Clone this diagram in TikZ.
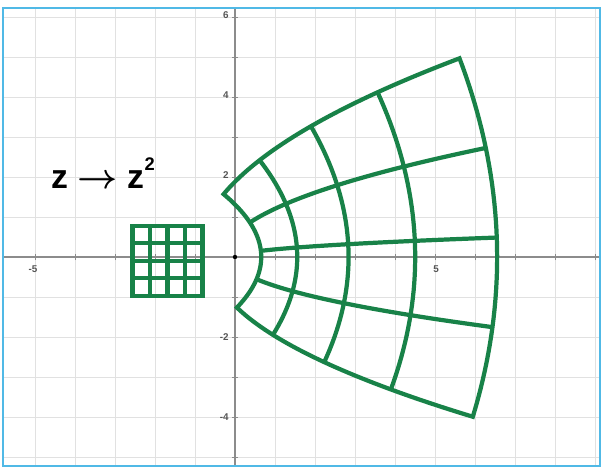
\documentclass[tikz,border=0pt]{standalone}
\usepackage{fontspec}
\setmainfont{Liberation Sans}
\definecolor{mgreen}{RGB}{24,130,72}
\definecolor{gridgray}{RGB}{225,225,225}
\definecolor{axisgray}{RGB}{140,140,140}
\definecolor{labelgray}{RGB}{85,85,85}
\definecolor{frameblue}{RGB}{80,185,230}
\begin{document}
\begin{tikzpicture}[x=1cm,y=1cm,
  curve/.style={draw=mgreen, line width=3pt, line join=miter, line cap=butt},
  gridline/.style={draw=gridgray, line width=0.6pt},
  axisline/.style={draw=axisgray, line width=0.9pt},
  tickmark/.style={draw=axisgray, line width=0.7pt},
  ticklabel/.style={font=\fontsize{7}{8}\selectfont\bfseries, text=labelgray, inner sep=1pt},
  titlelabel/.style={font=\fontsize{24}{28}\selectfont\bfseries\boldmath, text=black, inner sep=0pt}]
\useasboundingbox (-5.875,-5.3) rectangle (9.2,6.425);
\fill[white] (-5.875,-5.3) rectangle (9.2,6.425);
% frame region
\coordinate (fsw) at (-5.8,-5.225);
\coordinate (fne) at (9.125,6.225);
\begin{scope}
\clip (fsw) rectangle (fne);
\foreach \i in {-5,...,9} \draw[gridline] (\i,-5.3) -- (\i,6.425);
\foreach \j in {-5,...,6} \draw[gridline] (-5.875,\j) -- (9.2,\j);
\draw[axisline] (-5.875,0) -- (9.2,0);
\draw[axisline] (0,-5.3) -- (0,6.425);
\foreach \i in {-5,...,9} \draw[tickmark] (\i,-0.08) -- (\i,0.08);
\foreach \j in {-5,...,6} \draw[tickmark] (-0.08,\j) -- (0.08,\j);
\end{scope}
\draw[frameblue, line width=1.2pt] (fsw) rectangle (fne);
% tick labels
\node[ticklabel, anchor=east] (l6) at (-0.12,6.05) {6};
\node[ticklabel, anchor=east] (l4) at (-0.12,4.05) {4};
\node[ticklabel, anchor=east] (l2) at (-0.12,2.05) {2};
\node[ticklabel, anchor=east] (lm2) at (-0.12,-2.0) {-2};
\node[ticklabel, anchor=east] (lm4) at (-0.12,-4.0) {-4};
\node[ticklabel, anchor=north] (lm5) at (-5.05,-0.18) {-5};
\node[ticklabel, anchor=north] (l5) at (5.03,-0.18) {5};
\fill[black] (0,0) circle (0.055);
% title
\node[titlelabel] (title) at (-3.3,2.1) {z $\rightarrow$ z\kern0.5pt\raisebox{0.55em}{\fontsize{13}{14}\selectfont\bfseries 2}};
% parameters of the preimage rectangle
\def\A{0.81}\def\B{2.56}\def\C{-0.78}\def\D{0.97}
% small square (preimage, negated)
\foreach \k in {0,...,4}{
  \pgfmathsetmacro\xx{-\B+\k*(\B-\A)/4}
  \pgfmathsetmacro\yy{-\D+\k*(\D-\C)/4}
  \draw[curve] (\xx,-\D) -- (\xx,-\C);
  \draw[curve] (-\B,\yy) -- (-\A,\yy);
}
\draw[curve, line join=miter] (-\B,-\D) rectangle (-\A,-\C);
% image under z^2 : interior lines
\foreach \k in {1,2,3}{
  \pgfmathsetmacro\xx{\A+\k*(\B-\A)/4}
  \pgfmathsetmacro\yy{\C+\k*(\D-\C)/4}
  \draw[curve] plot[domain=\C:\D, samples=40, variable=\t] ({(\xx)^2-(\t)^2},{2*\xx*\t});
  \draw[curve] plot[domain=\A:\B, samples=40, variable=\t] ({(\t)^2-(\yy)^2},{2*\t*\yy});
}
% boundary as one closed path
\pgfmathsetmacro\hx{(\B-\A)/40}
\pgfmathsetmacro\hy{(\D-\C)/40}
\pgfmathsetmacro\ta{\A+\hx}
\pgfmathsetmacro\tb{\B-\hx}
\pgfmathsetmacro\tc{\D-\hy}
\draw[curve]
  plot[domain=\C:\D, samples=41, variable=\t] ({(\A)^2-(\t)^2},{2*\A*\t})
  -- plot[domain=\ta:\B, samples=40, variable=\t] ({(\t)^2-(\D)^2},{2*\t*\D})
  -- plot[domain=\tc:\C, samples=40, variable=\t] ({(\B)^2-(\t)^2},{2*\B*\t})
  -- plot[domain=\tb:\ta, samples=39, variable=\t] ({(\t)^2-(\C)^2},{2*\t*(\C)})
  -- cycle;
\end{tikzpicture}
\end{document}
